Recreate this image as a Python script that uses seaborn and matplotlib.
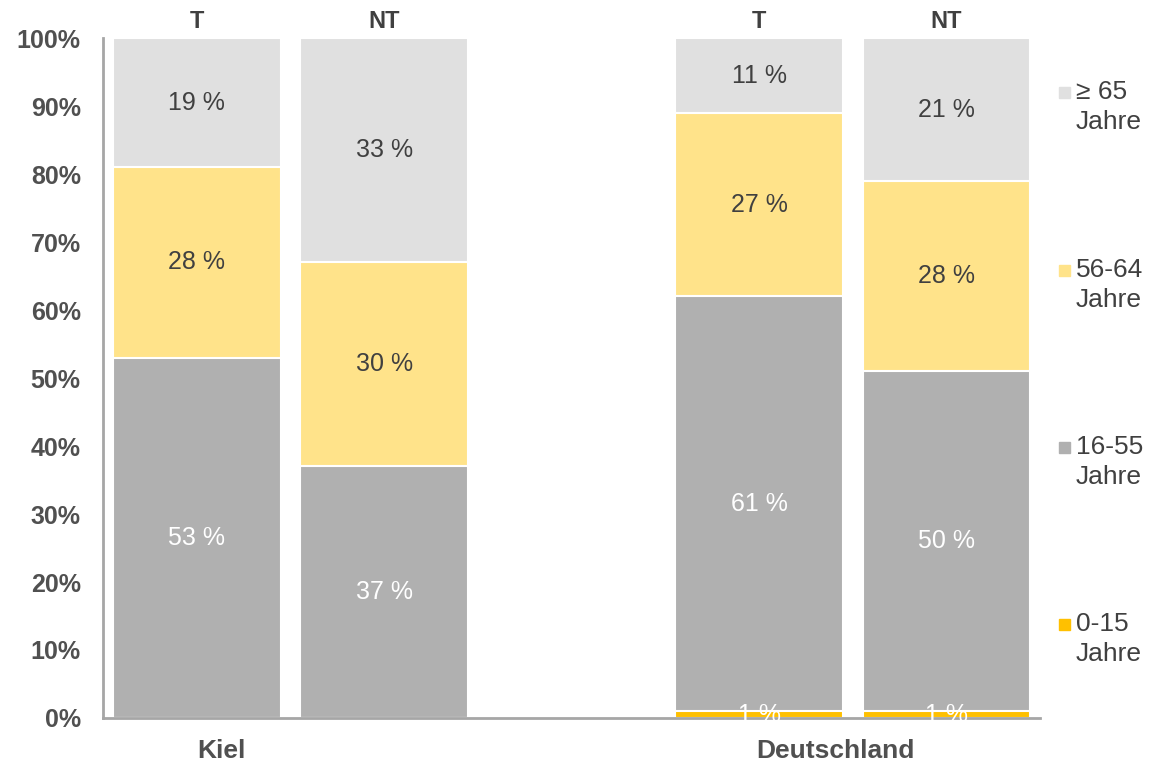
import numpy as np
import matplotlib.pyplot as plt
import matplotlib.patches as mpatches
import pandas as pd
import seaborn as sns

# Daten
bars = ['Kiel T', 'Kiel NT', 'Deutschland T', 'Deutschland NT']
bar_top = ['T', 'NT', 'T', 'NT']
groups = ['0-15 Jahre', '16-55 Jahre', '56-64 Jahre', '≥ 65 Jahre']
v_0_15 = [0, 0, 1, 1]
v_16_55 = [53, 37, 61, 50]
v_56_64 = [28, 30, 27, 28]
v_65 = [19, 33, 11, 21]
ticks_y = [0, 10, 20, 30, 40, 50, 60, 70, 80, 90, 100]

colors = ['#FFC000', '#B0B0B0', '#FFE38A', '#E0E0E0']
txt_colors = ['white', 'white', '#404040', '#404040']
legend_first = ['≥ 65', '56-64', '16-55', '0-15']

order = ['Kiel T', 'Kiel NT', '', 'Deutschland T', 'Deutschland NT']

werte = np.array([v_0_15, v_16_55, v_56_64, v_65], dtype=float)
kum = werte.cumsum(axis=0)

sns.set_style('white')
plt.rcParams['font.family'] = ['Liberation Sans', 'DejaVu Sans']

fig = plt.figure(figsize=(11.52, 7.63), dpi=100)
ax = fig.add_axes([0.0894, 0.059, 0.8136, 0.891])

# gestapelte Balken: von oben nach unten uebereinander zeichnen
for i in range(len(groups) - 1, -1, -1):
    df = pd.DataFrame({'bar': bars, 'wert': kum[i]})
    sns.barplot(data=df, x='bar', y='wert', order=order, color=colors[i],
                saturation=1, width=0.895, edgecolor='white', linewidth=1.5,
                ax=ax)

pos = [0, 1, 3, 4]
for i in range(len(groups)):
    for j in range(len(bars)):
        v = werte[i, j]
        if v <= 0:
            continue
        mitte = kum[i, j] - v / 2
        ax.text(pos[j], mitte, f'{int(v)} %', ha='center', va='center',
                fontsize=18, color=txt_colors[i])

for j in range(len(bars)):
    ax.text(pos[j], 100.7, bar_top[j], ha='center', va='bottom',
            fontsize=17, fontweight='bold', color='#404040')

ax.set_xlim(-0.5, 4.5)
ax.set_ylim(0, 100)
ax.set_yticks(ticks_y)
ax.set_yticklabels([f'{t}%' for t in ticks_y], fontsize=18, fontweight='bold',
                   color='#505050')
ax.set_xticks([0.13, 3.41])
ax.set_xticklabels(['Kiel', 'Deutschland'], fontsize=19, fontweight='bold',
                   color='#505050')
ax.tick_params(axis='y', length=0, pad=16)
ax.tick_params(axis='x', length=0, pad=15)
ax.set_xlabel('')
ax.set_ylabel('')
for s in ['top', 'right']:
    ax.spines[s].set_visible(False)
for s in ['left', 'bottom']:
    ax.spines[s].set_color('#A6A6A6')
    ax.spines[s].set_linewidth(2)

# Legende rechts
leg_colors = colors[::-1]
leg_y = [92, 270, 447, 624]
for k in range(len(legend_first)):
    yf = 1 - leg_y[k] / 763
    fig.patches.append(mpatches.Rectangle((1059 / 1152, yf - 6 / 763), 11 / 1152, 11 / 763,
                                          transform=fig.transFigure, color=leg_colors[k]))
    fig.text(1076 / 1152, yf, legend_first[k], ha='left', va='center',
             fontsize=19, color='#404040')
    fig.text(1076 / 1152, yf - 30 / 763, 'Jahre', ha='left', va='center',
             fontsize=19, color='#404040')

fig.savefig('out.png', dpi=100)
